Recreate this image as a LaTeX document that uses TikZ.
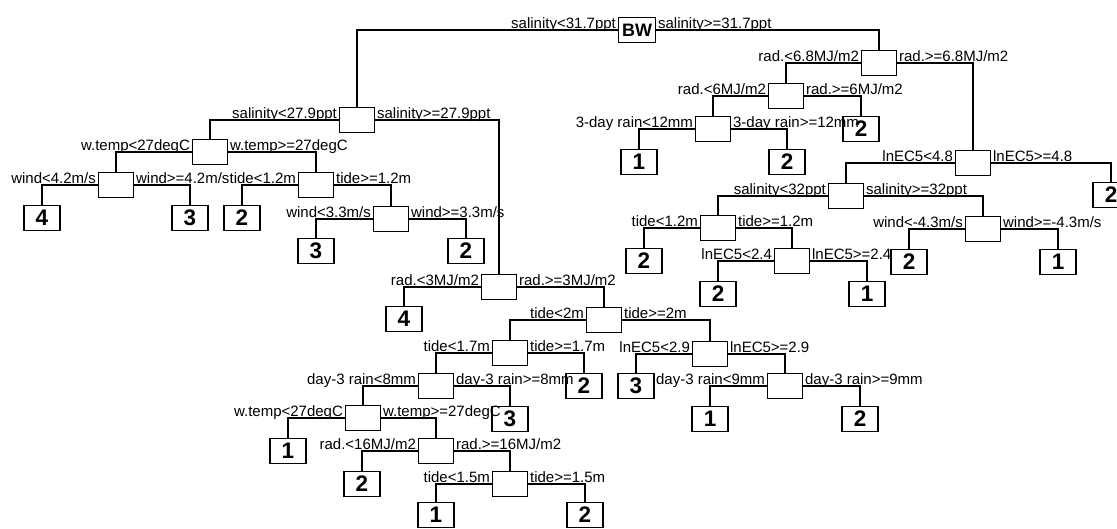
\documentclass[tikz,border=0pt]{standalone}
\usepackage{fontspec}
\setmainfont{Liberation Sans}
\tikzset{
  split/.style={draw, minimum width=35pt, minimum height=25pt, inner sep=0pt},
  leaf/.style={split, minimum width=36pt, font=\fontsize{22.5}{22.5}\selectfont\bfseries},
  lbl/.style={anchor=base east, yshift=2pt, inner sep=1.5pt},
  lbr/.style={anchor=base west, yshift=2pt, inner sep=1.5pt},
}
\begin{document}
\begin{tikzpicture}[x=1pt, y=-1pt, line width=1.1pt, font=\fontsize{15}{18}\selectfont]
\useasboundingbox (0,0) rectangle (1117,528);
\clip (0,0) rectangle (1117,528);
% racine
\node (bw) at (637,30) [split, minimum width=37pt, font=\fontsize{18}{18}\selectfont\bfseries]{BW};
% noeuds, branche gauche
\node (s1) at (357,120) [split]{};
\node (w1) at (210,152) [split]{};
\node (wd1) at (116,185) [split]{};
\node (l4a) at (42,218) [leaf]{4};
\node (l3a) at (190,218) [leaf]{3};
\node (t1) at (316,185) [split]{};
\node (l2a) at (242,218) [leaf]{2};
\node (wd2) at (391,219) [split]{};
\node (l3b) at (316,251) [leaf]{3};
\node (l2b) at (466,251) [leaf]{2};
\node (r3) at (499,287) [split]{};
\node (l4b) at (404,319) [leaf]{4};
\node (t2) at (604,320) [split]{};
\node (t3) at (510,353) [split]{};
\node (l2c) at (584,386) [leaf]{2};
\node (dr8) at (436,386) [split]{};
\node (l3c) at (510,419) [leaf]{3};
\node (w2) at (363,418) [split]{};
\node (l1a) at (288,451) [leaf]{1};
\node (r16) at (436,451) [split]{};
\node (l2d) at (362,484) [leaf]{2};
\node (t4) at (510,484) [split]{};
\node (l1b) at (436,515) [leaf]{1};
\node (l2e) at (585,515) [leaf]{2};
\node (e29) at (710,354) [split]{};
\node (l3d) at (636,386) [leaf]{3};
\node (dr9) at (785,386) [split]{};
\node (l1c) at (710,419) [leaf]{1};
\node (l2f) at (860,419) [leaf]{2};
% noeuds, branche droite
\node (r68) at (879,63) [split]{};
\node (r6) at (786,96) [split]{};
\node (l2h) at (861,129) [leaf]{2};
\node (dr12) at (713,129) [split]{};
\node (l1d) at (639,162) [leaf]{1};
\node (l2g) at (787,162) [leaf]{2};
\node (e48) at (973,163) [split]{};
\node (l2i) at (1111,195) [leaf]{2};
\node (s32) at (846,196) [split]{};
\node (t5) at (718,228) [split]{};
\node (l2j) at (644,261) [leaf]{2};
\node (e24) at (792,261) [split]{};
\node (l2k) at (718,294) [leaf]{2};
\node (l1e) at (867,294) [leaf]{1};
\node (wd3) at (983,229) [split]{};
\node (l2l) at (909,262) [leaf]{2};
\node (l1f) at (1058,262) [leaf]{1};
% branches
\draw (bw.west) node [lbl]{salinity<31.7ppt} -| (s1.north) (bw.east) node [lbr]{salinity>=31.7ppt} -| (r68.north);
\draw (s1.west) node [lbl]{salinity<27.9ppt} -| (w1.north) (s1.east) node [lbr]{salinity>=27.9ppt} -| (r3.north);
\draw (w1.west) node [lbl]{w.temp<27degC} -| (wd1.north) (w1.east) node [lbr]{w.temp>=27degC} -| (t1.north);
\draw (wd1.west) node [lbl]{wind<4.2m/s} -| (l4a.north) (wd1.east) node [lbr]{wind>=4.2m/s} -| (l3a.north);
\draw (t1.west) node [lbl]{tide<1.2m} -| (l2a.north) (t1.east) node [lbr]{tide>=1.2m} -| (wd2.north);
\draw (wd2.west) node [lbl]{wind<3.3m/s} -| (l3b.north) (wd2.east) node [lbr]{wind>=3.3m/s} -| (l2b.north);
\draw (r3.west) node [lbl]{rad.<3MJ/m2} -| (l4b.north) (r3.east) node [lbr]{rad.>=3MJ/m2} -| (t2.north);
\draw (t2.west) node [lbl]{tide<2m} -| (t3.north) (t2.east) node [lbr]{tide>=2m} -| (e29.north);
\draw (t3.west) node [lbl]{tide<1.7m} -| (dr8.north) (t3.east) node [lbr]{tide>=1.7m} -| (l2c.north);
\draw (dr8.west) node [lbl]{day-3 rain<8mm} -| (w2.north) (dr8.east) node [lbr]{day-3 rain>=8mm} -| (l3c.north);
\draw (w2.west) node [lbl]{w.temp<27degC} -| (l1a.north) (w2.east) node [lbr]{w.temp>=27degC} -| (r16.north);
\draw (r16.west) node [lbl]{rad.<16MJ/m2} -| (l2d.north) (r16.east) node [lbr]{rad.>=16MJ/m2} -| (t4.north);
\draw (t4.west) node [lbl]{tide<1.5m} -| (l1b.north) (t4.east) node [lbr]{tide>=1.5m} -| (l2e.north);
\draw (e29.west) node [lbl]{lnEC5<2.9} -| (l3d.north) (e29.east) node [lbr]{lnEC5>=2.9} -| (dr9.north);
\draw (dr9.west) node [lbl]{day-3 rain<9mm} -| (l1c.north) (dr9.east) node [lbr]{day-3 rain>=9mm} -| (l2f.north);
\draw (r68.west) node [lbl]{rad.<6.8MJ/m2} -| (r6.north) (r68.east) node [lbr]{rad.>=6.8MJ/m2} -| (e48.north);
\draw (r6.west) node [lbl]{rad.<6MJ/m2} -| (dr12.north) (r6.east) node [lbr]{rad.>=6MJ/m2} -| (l2h.north);
\draw (dr12.west) node [lbl]{3-day rain<12mm} -| (l1d.north) (dr12.east) node [lbr]{3-day rain>=12mm} -| (l2g.north);
\draw (e48.west) node [lbl]{lnEC5<4.8} -| (s32.north) (e48.east) node [lbr]{lnEC5>=4.8} -| (l2i.north);
\draw (s32.west) node [lbl]{salinity<32ppt} -| (t5.north) (s32.east) node [lbr]{salinity>=32ppt} -| (wd3.north);
\draw (t5.west) node [lbl]{tide<1.2m} -| (l2j.north) (t5.east) node [lbr]{tide>=1.2m} -| (e24.north);
\draw (e24.west) node [lbl]{lnEC5<2.4} -| (l2k.north) (e24.east) node [lbr]{lnEC5>=2.4} -| (l1e.north);
\draw (wd3.west) node [lbl]{wind<-4.3m/s} -| (l2l.north) (wd3.east) node [lbr]{wind>=-4.3m/s} -| (l1f.north);
\end{tikzpicture}
\end{document}
